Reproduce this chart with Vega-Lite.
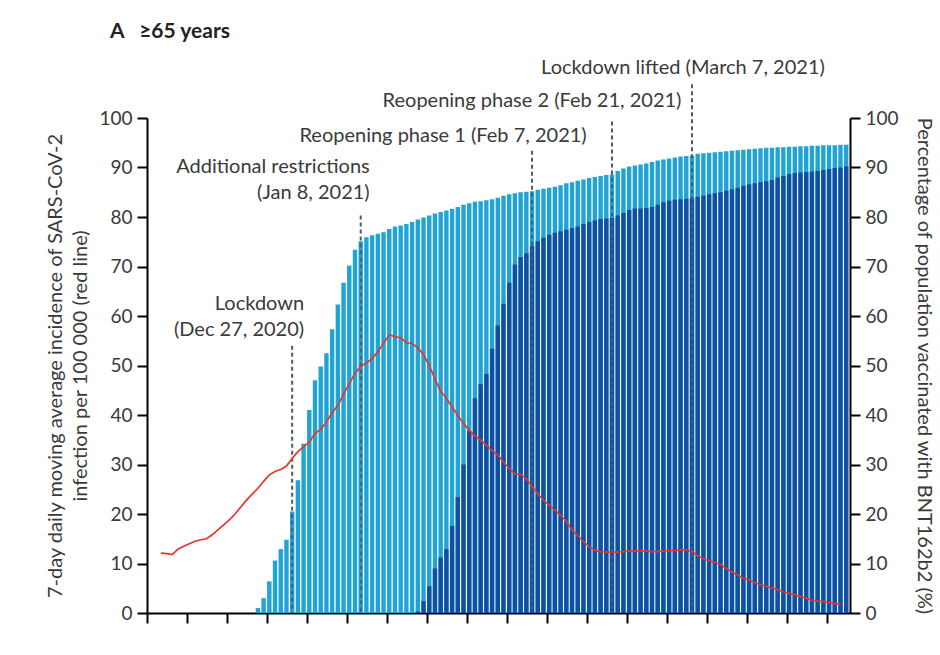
{
  "$schema": "https://vega.github.io/schema/vega-lite/v6.json",
  "width": 703,
  "height": 495,
  "autosize": "none",
  "padding": {"left": 147, "top": 118, "right": 90, "bottom": 42},
  "background": "white",
  "title": {"text": "A\u00a0\u00a0\u00a0≥65 years", "anchor": "start", "frame": "group", "dx": -37, "offset": 16, "fontSize": 21, "fontWeight": "bold", "font": "Lato", "color": "#222222"},
  "config": {
    "view": {"stroke": null},
    "font": "Lato",
    "axis": {"grid": false, "domainColor": "#000000", "domainWidth": 2, "tickColor": "#000000", "tickWidth": 2, "tickSize": 10, "labelFont": "Lato", "labelFontSize": 19, "labelColor": "#3a3a3a", "titleFont": "Lato", "titleFontSize": 20, "titleFontWeight": "normal", "titleColor": "#3a3a3a"}
  },
  "datasets": {
    "daily": [
      {"date": "2020-12-04", "incidence": 12.1, "firstDose": null, "secondDose": null},
      {"date": "2020-12-05", "incidence": 12.0, "firstDose": null, "secondDose": null},
      {"date": "2020-12-06", "incidence": 11.8, "firstDose": null, "secondDose": null},
      {"date": "2020-12-07", "incidence": 12.9, "firstDose": null, "secondDose": null},
      {"date": "2020-12-08", "incidence": 13.5, "firstDose": null, "secondDose": null},
      {"date": "2020-12-09", "incidence": 14.0, "firstDose": null, "secondDose": null},
      {"date": "2020-12-10", "incidence": 14.5, "firstDose": null, "secondDose": null},
      {"date": "2020-12-11", "incidence": 14.8, "firstDose": null, "secondDose": null},
      {"date": "2020-12-12", "incidence": 15.0, "firstDose": null, "secondDose": null},
      {"date": "2020-12-13", "incidence": 15.8, "firstDose": null, "secondDose": null},
      {"date": "2020-12-14", "incidence": 16.8, "firstDose": null, "secondDose": null},
      {"date": "2020-12-15", "incidence": 17.8, "firstDose": null, "secondDose": null},
      {"date": "2020-12-16", "incidence": 18.8, "firstDose": null, "secondDose": null},
      {"date": "2020-12-17", "incidence": 20.0, "firstDose": null, "secondDose": null},
      {"date": "2020-12-18", "incidence": 21.4, "firstDose": null, "secondDose": null},
      {"date": "2020-12-19", "incidence": 22.8, "firstDose": null, "secondDose": null},
      {"date": "2020-12-20", "incidence": 24.0, "firstDose": null, "secondDose": null},
      {"date": "2020-12-21", "incidence": 25.2, "firstDose": 1.0, "secondDose": null},
      {"date": "2020-12-22", "incidence": 26.6, "firstDose": 3.0, "secondDose": null},
      {"date": "2020-12-23", "incidence": 27.9, "firstDose": 6.4, "secondDose": null},
      {"date": "2020-12-24", "incidence": 28.6, "firstDose": 10.6, "secondDose": null},
      {"date": "2020-12-25", "incidence": 29.0, "firstDose": 12.9, "secondDose": null},
      {"date": "2020-12-26", "incidence": 29.7, "firstDose": 14.8, "secondDose": null},
      {"date": "2020-12-27", "incidence": 31.2, "firstDose": 20.5, "secondDose": null},
      {"date": "2020-12-28", "incidence": 32.6, "firstDose": 26.8, "secondDose": null},
      {"date": "2020-12-29", "incidence": 33.6, "firstDose": 34.2, "secondDose": null},
      {"date": "2020-12-30", "incidence": 34.5, "firstDose": 41.0, "secondDose": null},
      {"date": "2020-12-31", "incidence": 36.3, "firstDose": 47.0, "secondDose": null},
      {"date": "2021-01-01", "incidence": 37.1, "firstDose": 49.8, "secondDose": null},
      {"date": "2021-01-02", "incidence": 38.6, "firstDose": 52.5, "secondDose": null},
      {"date": "2021-01-03", "incidence": 40.5, "firstDose": 57.3, "secondDose": null},
      {"date": "2021-01-04", "incidence": 41.9, "firstDose": 62.3, "secondDose": null},
      {"date": "2021-01-05", "incidence": 44.2, "firstDose": 66.7, "secondDose": null},
      {"date": "2021-01-06", "incidence": 46.4, "firstDose": 70.2, "secondDose": null},
      {"date": "2021-01-07", "incidence": 48.4, "firstDose": 73.4, "secondDose": null},
      {"date": "2021-01-08", "incidence": 49.8, "firstDose": 75.1, "secondDose": null},
      {"date": "2021-01-09", "incidence": 50.5, "firstDose": 75.9, "secondDose": null},
      {"date": "2021-01-10", "incidence": 51.4, "firstDose": 76.3, "secondDose": null},
      {"date": "2021-01-11", "incidence": 52.8, "firstDose": 76.6, "secondDose": null},
      {"date": "2021-01-12", "incidence": 54.5, "firstDose": 76.9, "secondDose": null},
      {"date": "2021-01-13", "incidence": 56.2, "firstDose": 77.6, "secondDose": null},
      {"date": "2021-01-14", "incidence": 55.8, "firstDose": 78.1, "secondDose": null},
      {"date": "2021-01-15", "incidence": 55.6, "firstDose": 78.3, "secondDose": null},
      {"date": "2021-01-16", "incidence": 54.6, "firstDose": 78.6, "secondDose": null},
      {"date": "2021-01-17", "incidence": 54.5, "firstDose": 79.0, "secondDose": null},
      {"date": "2021-01-18", "incidence": 53.5, "firstDose": 79.5, "secondDose": 0.3},
      {"date": "2021-01-19", "incidence": 52.2, "firstDose": 79.9, "secondDose": 2.4},
      {"date": "2021-01-20", "incidence": 50.0, "firstDose": 80.3, "secondDose": 5.4},
      {"date": "2021-01-21", "incidence": 47.3, "firstDose": 80.7, "secondDose": 9.0},
      {"date": "2021-01-22", "incidence": 44.8, "firstDose": 81.0, "secondDose": 11.2},
      {"date": "2021-01-23", "incidence": 43.4, "firstDose": 81.3, "secondDose": 12.9},
      {"date": "2021-01-24", "incidence": 41.6, "firstDose": 81.6, "secondDose": 17.6},
      {"date": "2021-01-25", "incidence": 39.9, "firstDose": 82.0, "secondDose": 23.4},
      {"date": "2021-01-26", "incidence": 38.3, "firstDose": 82.5, "secondDose": 30.0},
      {"date": "2021-01-27", "incidence": 36.9, "firstDose": 82.8, "secondDose": 36.7},
      {"date": "2021-01-28", "incidence": 35.8, "firstDose": 83.1, "secondDose": 43.4},
      {"date": "2021-01-29", "incidence": 34.9, "firstDose": 83.2, "secondDose": 46.2},
      {"date": "2021-01-30", "incidence": 33.9, "firstDose": 83.4, "secondDose": 48.3},
      {"date": "2021-01-31", "incidence": 32.8, "firstDose": 83.6, "secondDose": 53.4},
      {"date": "2021-02-01", "incidence": 31.9, "firstDose": 83.9, "secondDose": 58.1},
      {"date": "2021-02-02", "incidence": 30.5, "firstDose": 84.3, "secondDose": 62.5},
      {"date": "2021-02-03", "incidence": 29.2, "firstDose": 84.6, "secondDose": 66.7},
      {"date": "2021-02-04", "incidence": 28.1, "firstDose": 84.8, "secondDose": 70.4},
      {"date": "2021-02-05", "incidence": 28.0, "firstDose": 85.0, "secondDose": 71.9},
      {"date": "2021-02-06", "incidence": 27.1, "firstDose": 85.1, "secondDose": 72.7},
      {"date": "2021-02-07", "incidence": 25.6, "firstDose": 85.2, "secondDose": 74.1},
      {"date": "2021-02-08", "incidence": 24.1, "firstDose": 85.5, "secondDose": 75.1},
      {"date": "2021-02-09", "incidence": 22.8, "firstDose": 85.7, "secondDose": 75.8},
      {"date": "2021-02-10", "incidence": 21.8, "firstDose": 85.9, "secondDose": 76.4},
      {"date": "2021-02-11", "incidence": 20.8, "firstDose": 86.1, "secondDose": 76.8},
      {"date": "2021-02-12", "incidence": 19.8, "firstDose": 86.4, "secondDose": 77.1},
      {"date": "2021-02-13", "incidence": 18.5, "firstDose": 86.8, "secondDose": 77.4},
      {"date": "2021-02-14", "incidence": 16.8, "firstDose": 87.0, "secondDose": 77.8},
      {"date": "2021-02-15", "incidence": 15.6, "firstDose": 87.3, "secondDose": 78.1},
      {"date": "2021-02-16", "incidence": 14.4, "firstDose": 87.6, "secondDose": 78.6},
      {"date": "2021-02-17", "incidence": 13.4, "firstDose": 87.9, "secondDose": 79.0},
      {"date": "2021-02-18", "incidence": 12.7, "firstDose": 88.1, "secondDose": 79.3},
      {"date": "2021-02-19", "incidence": 12.4, "firstDose": 88.3, "secondDose": 79.6},
      {"date": "2021-02-20", "incidence": 12.3, "firstDose": 88.5, "secondDose": 79.7},
      {"date": "2021-02-21", "incidence": 12.3, "firstDose": 88.6, "secondDose": 79.8},
      {"date": "2021-02-22", "incidence": 12.3, "firstDose": 89.3, "secondDose": 80.3},
      {"date": "2021-02-23", "incidence": 12.4, "firstDose": 89.8, "secondDose": 80.8},
      {"date": "2021-02-24", "incidence": 12.5, "firstDose": 90.2, "secondDose": 81.4},
      {"date": "2021-02-25", "incidence": 12.5, "firstDose": 90.4, "secondDose": 81.7},
      {"date": "2021-02-26", "incidence": 12.6, "firstDose": 90.6, "secondDose": 81.7},
      {"date": "2021-02-27", "incidence": 12.5, "firstDose": 90.8, "secondDose": 81.8},
      {"date": "2021-02-28", "incidence": 12.4, "firstDose": 91.1, "secondDose": 82.0},
      {"date": "2021-03-01", "incidence": 12.4, "firstDose": 91.4, "secondDose": 82.5},
      {"date": "2021-03-02", "incidence": 12.5, "firstDose": 91.6, "secondDose": 83.0},
      {"date": "2021-03-03", "incidence": 12.6, "firstDose": 91.8, "secondDose": 83.3},
      {"date": "2021-03-04", "incidence": 12.6, "firstDose": 92.0, "secondDose": 83.5},
      {"date": "2021-03-05", "incidence": 12.8, "firstDose": 92.2, "secondDose": 83.6},
      {"date": "2021-03-06", "incidence": 12.7, "firstDose": 92.3, "secondDose": 83.7},
      {"date": "2021-03-07", "incidence": 12.4, "firstDose": 92.4, "secondDose": 83.8},
      {"date": "2021-03-08", "incidence": 11.6, "firstDose": 92.8, "secondDose": 84.1},
      {"date": "2021-03-09", "incidence": 10.9, "firstDose": 92.9, "secondDose": 84.3},
      {"date": "2021-03-10", "incidence": 10.6, "firstDose": 93.0, "secondDose": 84.6},
      {"date": "2021-03-11", "incidence": 10.2, "firstDose": 93.1, "secondDose": 84.8},
      {"date": "2021-03-12", "incidence": 9.8, "firstDose": 93.2, "secondDose": 85.0},
      {"date": "2021-03-13", "incidence": 9.0, "firstDose": 93.3, "secondDose": 85.3},
      {"date": "2021-03-14", "incidence": 8.3, "firstDose": 93.4, "secondDose": 85.6},
      {"date": "2021-03-15", "incidence": 7.7, "firstDose": 93.5, "secondDose": 85.9},
      {"date": "2021-03-16", "incidence": 7.0, "firstDose": 93.6, "secondDose": 86.3},
      {"date": "2021-03-17", "incidence": 6.7, "firstDose": 93.7, "secondDose": 86.6},
      {"date": "2021-03-18", "incidence": 6.1, "firstDose": 93.8, "secondDose": 86.8},
      {"date": "2021-03-19", "incidence": 5.7, "firstDose": 93.9, "secondDose": 87.0},
      {"date": "2021-03-20", "incidence": 5.4, "firstDose": 94.0, "secondDose": 87.2},
      {"date": "2021-03-21", "incidence": 5.1, "firstDose": 94.0, "secondDose": 87.5},
      {"date": "2021-03-22", "incidence": 4.7, "firstDose": 94.1, "secondDose": 88.0},
      {"date": "2021-03-23", "incidence": 4.3, "firstDose": 94.1, "secondDose": 88.3},
      {"date": "2021-03-24", "incidence": 4.0, "firstDose": 94.2, "secondDose": 88.7},
      {"date": "2021-03-25", "incidence": 3.7, "firstDose": 94.2, "secondDose": 88.9},
      {"date": "2021-03-26", "incidence": 3.3, "firstDose": 94.3, "secondDose": 89.0},
      {"date": "2021-03-27", "incidence": 3.0, "firstDose": 94.3, "secondDose": 89.1},
      {"date": "2021-03-28", "incidence": 2.6, "firstDose": 94.4, "secondDose": 89.2},
      {"date": "2021-03-29", "incidence": 2.4, "firstDose": 94.4, "secondDose": 89.3},
      {"date": "2021-03-30", "incidence": 2.3, "firstDose": 94.5, "secondDose": 89.5},
      {"date": "2021-03-31", "incidence": 2.1, "firstDose": 94.5, "secondDose": 89.7},
      {"date": "2021-04-01", "incidence": 1.9, "firstDose": 94.5, "secondDose": 89.9},
      {"date": "2021-04-02", "incidence": 1.7, "firstDose": 94.6, "secondDose": 90.0},
      {"date": "2021-04-03", "incidence": null, "firstDose": 94.6, "secondDose": 90.2}
    ],
    "events": [
      {"event": "Lockdown", "date": "2020-12-27", "top": 54, "label": ["Lockdown", "(Dec 27, 2020)"]},
      {"event": "Additional restrictions", "date": "2021-01-08", "top": 80.3, "label": ["Additional restrictions", "(Jan 8, 2021)"]},
      {"event": "Reopening phase 1", "date": "2021-02-07", "top": 93.4, "label": "Reopening phase 1 (Feb 7, 2021)"},
      {"event": "Reopening phase 2", "date": "2021-02-21", "top": 99.3, "label": "Reopening phase 2 (Feb 21, 2021)"},
      {"event": "Lockdown lifted", "date": "2021-03-07", "top": 106.8, "label": "Lockdown lifted (March 7, 2021)"}
    ]
  },
  "layer": [
    {
      "layer": [
        {
          "data": {"name": "daily"},
          "mark": {"type": "bar", "size": 4.4, "color": "#1fa4d4"},
          "encoding": {
            "x": {"field": "date", "type": "temporal", "scale": {"domain": [1606831200000, 1617465600000], "nice": false, "padding": 0},
              "axis": {"values": [1606831200000, 1607436000000, 1608040800000, 1608645600000, 1609250400000, 1609855200000, 1610460000000, 1611064800000, 1611669600000, 1612274400000, 1612879200000, 1613484000000, 1614088800000, 1614693600000, 1615298400000, 1615903200000, 1616508000000, 1617112800000], "labels": false, "title": null, "tickSize": 10}},
            "y": {"field": "firstDose", "type": "quantitative", "scale": {"domain": [0, 100], "nice": false},
              "axis": {"orient": "right", "values": [0, 10, 20, 30, 40, 50, 60, 70, 80, 90, 100], "title": "Percentage of population vaccinated with BNT162b2 (%)", "titlePadding": 15, "labelPadding": 5}}
          }
        },
        {
          "data": {"name": "daily"},
          "mark": {"type": "bar", "size": 4.4, "color": "#0f50a2"},
          "encoding": {
            "x": {"field": "date", "type": "temporal"},
            "y": {"field": "secondDose", "type": "quantitative"}
          }
        },
        {
          "data": {"name": "events"},
          "mark": {"type": "rule", "strokeDash": [4, 3], "strokeWidth": 2, "color": "#4b5b68"},
          "encoding": {
            "x": {"field": "date", "type": "temporal"},
            "y": {"field": "top", "type": "quantitative"},
            "y2": {"datum": 0}
          }
        },
        {
          "data": {"name": "events"},
          "transform": [{"filter": "datum.event === 'Lockdown'"}],
          "mark": {"type": "text", "align": "right", "baseline": "bottom", "dx": 12, "dy": -32, "lineHeight": 26, "fontSize": 20, "font": "Lato", "color": "#3a3a3a"},
          "encoding": {"x": {"field": "date", "type": "temporal"}, "y": {"field": "top", "type": "quantitative"}, "text": {"field": "label", "type": "nominal"}}
        },
        {
          "data": {"name": "events"},
          "transform": [{"filter": "datum.event === 'Additional restrictions'"}],
          "mark": {"type": "text", "align": "right", "baseline": "bottom", "dx": 9, "dy": -39, "lineHeight": 26, "fontSize": 20, "font": "Lato", "color": "#3a3a3a"},
          "encoding": {"x": {"field": "date", "type": "temporal"}, "y": {"field": "top", "type": "quantitative"}, "text": {"field": "label", "type": "nominal"}}
        },
        {
          "data": {"name": "events"},
          "transform": [{"filter": "datum.event === 'Reopening phase 1'"}],
          "mark": {"type": "text", "align": "center", "baseline": "bottom", "dx": -89, "dy": -5, "fontSize": 20, "font": "Lato", "color": "#3a3a3a"},
          "encoding": {"x": {"field": "date", "type": "temporal"}, "y": {"field": "top", "type": "quantitative"}, "text": {"field": "label", "type": "nominal"}}
        },
        {
          "data": {"name": "events"},
          "transform": [{"filter": "datum.event === 'Reopening phase 2'"}],
          "mark": {"type": "text", "align": "center", "baseline": "bottom", "dx": -80, "dy": -10, "fontSize": 20, "font": "Lato", "color": "#3a3a3a"},
          "encoding": {"x": {"field": "date", "type": "temporal"}, "y": {"field": "top", "type": "quantitative"}, "text": {"field": "label", "type": "nominal"}}
        },
        {
          "data": {"name": "events"},
          "transform": [{"filter": "datum.event === 'Lockdown lifted'"}],
          "mark": {"type": "text", "align": "center", "baseline": "bottom", "dx": -9, "dy": -6, "fontSize": 20, "font": "Lato", "color": "#3a3a3a"},
          "encoding": {"x": {"field": "date", "type": "temporal"}, "y": {"field": "top", "type": "quantitative"}, "text": {"field": "label", "type": "nominal"}}
        }
      ]
    },
    {
      "data": {"name": "daily"},
      "mark": {"type": "line", "color": "#e8342c", "strokeWidth": 1.7},
      "encoding": {
        "x": {"field": "date", "type": "temporal"},
        "y": {"field": "incidence", "type": "quantitative", "scale": {"domain": [0, 100], "nice": false},
          "axis": {"orient": "left", "values": [0, 10, 20, 30, 40, 50, 60, 70, 80, 90, 100], "title": ["7-day daily moving average incidence of SARS-CoV-2", "infection per 100 000 (red line)"], "titlePadding": 8, "titleLineHeight": 25, "labelPadding": 5}}
      }
    }
  ],
  "resolve": {"scale": {"y": "independent"}}
}
